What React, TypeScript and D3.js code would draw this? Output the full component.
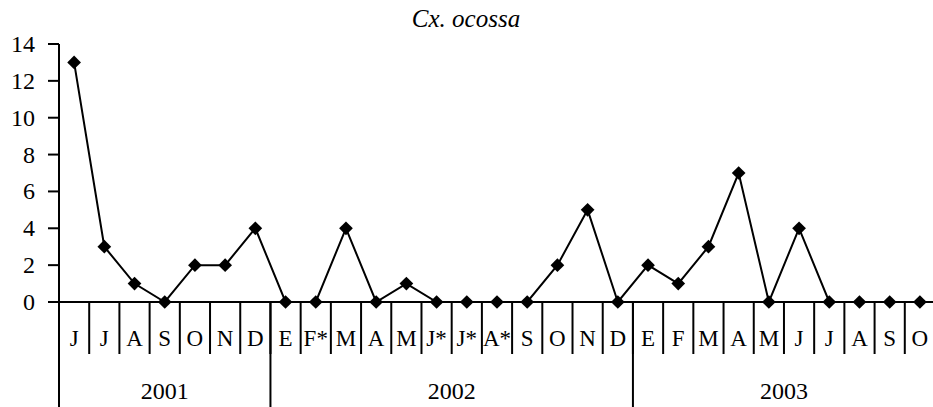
import { useEffect, useRef } from 'react';
import * as d3 from 'd3';

const months = [
  'J', 'J', 'A', 'S', 'O', 'N', 'D',
  'E', 'F*', 'M', 'A', 'M', 'J*', 'J*', 'A*', 'S', 'O', 'N', 'D',
  'E', 'F', 'M', 'A', 'M', 'J', 'J', 'A', 'S', 'O',
];
const values = [
  13, 3, 1, 0, 2, 2, 4,
  0, 0, 4, 0, 1, 0, 0, 0, 0, 2, 5, 0,
  2, 1, 3, 7, 0, 4, 0, 0, 0, 0,
];
const years = ['2001', '2002', '2003'];
const yearCounts = [7, 12, 10];
const yTicks = [0, 2, 4, 6, 8, 10, 12, 14];
const title = 'Cx. ocossa';

export default function App() {
  const ref = useRef<SVGSVGElement | null>(null);

  useEffect(() => {
    if (!ref.current) return;
    const svg = d3.select(ref.current);
    svg.selectAll('*').remove();

    const width = 933;
    const height = 407;

    const idx = months.map((_, i) => i);
    const x = d3.scaleBand<number>().domain(idx).range([59, 935]);
    const y = d3.scaleLinear().domain([0, 14]).range([302, 44]);

    svg.attr('width', width).attr('height', height)
      .style('font-family', "'Liberation Serif', 'Times New Roman', serif");

    // title
    svg.append('text')
      .attr('x', 466)
      .attr('y', 27)
      .attr('text-anchor', 'middle')
      .style('font-style', 'italic')
      .style('font-size', '25px')
      .text(title);

    // y axis
    svg.append('line')
      .attr('x1', 59).attr('x2', 59)
      .attr('y1', y(14)).attr('y2', height)
      .attr('stroke', 'black').attr('stroke-width', 2);

    yTicks.forEach((t) => {
      svg.append('line')
        .attr('x1', 48).attr('x2', 59)
        .attr('y1', y(t)).attr('y2', y(t))
        .attr('stroke', 'black').attr('stroke-width', 2);
      svg.append('text')
        .attr('x', 35)
        .attr('y', y(t) + 8)
        .attr('text-anchor', 'end')
        .style('font-size', '24px')
        .text(t);
    });

    // x axis
    svg.append('line')
      .attr('x1', 48).attr('x2', width)
      .attr('y1', y(0)).attr('y2', y(0))
      .attr('stroke', 'black').attr('stroke-width', 2);

    // category separators and labels
    idx.forEach((i) => {
      const x0 = x(i)!;
      if (i > 0) {
        svg.append('line')
          .attr('x1', x0).attr('x2', x0)
          .attr('y1', y(0)).attr('y2', 354)
          .attr('stroke', 'black').attr('stroke-width', 2);
      }
      svg.append('text')
        .attr('x', x0 + x.bandwidth() / 2)
        .attr('y', 346)
        .attr('text-anchor', 'middle')
        .style('font-size', '23px')
        .text(months[i]);
    });

    // year separators and labels
    let start = 0;
    years.forEach((yr, k) => {
      const end = start + yearCounts[k];
      const xs = x(start)!;
      const xe = end < months.length ? x(end)! : x.range()[1];
      svg.append('line')
        .attr('x1', xe).attr('x2', xe)
        .attr('y1', y(0)).attr('y2', height)
        .attr('stroke', 'black').attr('stroke-width', 2);
      svg.append('text')
        .attr('x', (xs + xe) / 2)
        .attr('y', 399)
        .attr('text-anchor', 'middle')
        .style('font-size', '24px')
        .text(yr);
      start = end;
    });

    // line
    const line = d3.line<number>()
      .x((i) => x(i)! + x.bandwidth() / 2)
      .y((i) => y(values[i]));

    svg.append('path')
      .attr('d', line(idx)!)
      .attr('fill', 'none')
      .attr('stroke', 'black')
      .attr('stroke-width', 2);

    // markers
    const sym = d3.symbol().type(d3.symbolDiamond2).size(120);
    svg.append('g')
      .selectAll('path')
      .data(idx)
      .join('path')
      .attr('d', sym()!)
      .attr('transform', (i) => `translate(${x(i)! + x.bandwidth() / 2},${y(values[i])})`)
      .attr('fill', 'black');
  }, []);

  return (
    <div style={{ position: 'absolute', left: 0, top: 0 }}>
      <svg ref={ref} style={{ display: 'block' }}></svg>
    </div>
  );
}
